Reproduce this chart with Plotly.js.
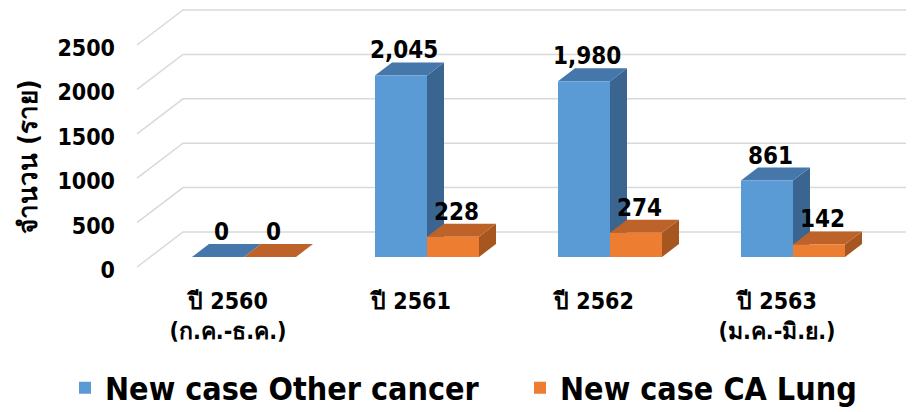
<!DOCTYPE html>
<html>
<head>
<meta charset="utf-8">
<script src="https://cdn.plot.ly/plotly-3.0.1.min.js"></script>
<style>html,body{margin:0;padding:0;background:#fff;}#chart{width:914px;height:412px;}</style>
</head>
<body>
<div id="chart"></div>
<script>
// ---- data ----
const categories = ['ปี 2560<br>(ก.ค.-ธ.ค.)', 'ปี 2561', 'ปี 2562', 'ปี 2563<br>(ม.ค.-มิ.ย.)'];
const seriesNames = ['New case Other cancer', 'New case CA Lung'];
const otherCancer = [0, 2045, 1980, 861];
const caLung = [0, 228, 274, 142];
const yTicks = [0, 500, 1000, 1500, 2000, 2500];

// ---- geometry / style ----
const W = 914, H = 412;
const M = {l: 130, r: 4, t: 4, b: 137, autoexpand: false};
const plotH = H - M.t - M.b;
const plotBottom = H - M.b;
const FLOOR = 257;          // pixel row of value 0 at bar front
const PYU = 0.0888;         // pixels per unit
const CAT0 = 244, PXC = 183; // pixel of first category, pixels per category
const BARPX = 52, DX = 17, DY = 13; // bar width & 3-D depth offset (px)
const FONT = "Tahoma, 'DejaVu Sans Condensed', 'DejaVu Sans', 'Noto Sans', sans-serif";
const COLORS = {
  front: ['#5B9BD5', '#ED7D31'],
  top:   ['#4677AA', '#BD6229'],
  side:  ['#3B6591', '#A7561F']
};

const yRange = [-(plotBottom - FLOOR) / PYU, (FLOOR - M.t) / PYU];
const xRange = [(M.l - CAT0) / PXC, (W - M.r - CAT0) / PXC];
const bw = BARPX / PXC;
const xs = categories.map((c, i) => i);
const series = [otherCancer, caLung];

const traces = series.map((vals, s) => ({
  type: 'bar',
  name: seriesNames[s],
  x: xs,
  y: vals,
  width: bw,
  offset: s === 0 ? -bw : 0,
  marker: {color: COLORS.front[s], line: {width: 0}},
  hoverinfo: 'skip'
}));

const shapes = [];
// back-wall gridlines with perspective lead-in
yTicks.forEach(v => {
  shapes.push({
    type: 'path', layer: 'below',
    xref: 'paper', xsizemode: 'pixel', xanchor: 0,
    yref: 'y', ysizemode: 'pixel', yanchor: v,
    path: `M7,-10L53,25L${W - M.r - M.l - 4},25`,
    line: {color: '#D9D9D9', width: 1.5}
  });
});
// 3-D top and side faces of each bar
series.forEach((vals, s) => {
  vals.forEach((v, i) => {
    const left = i + (s === 0 ? -bw : 0);
    const h = v * PYU;
    shapes.push({
      type: 'path', layer: 'below',
      xref: 'x', xsizemode: 'pixel', xanchor: left + bw,
      yref: 'y', ysizemode: 'pixel', yanchor: v,
      path: `M0,0L${DX},${DY}L${DX},${DY - h}L0,${-h}Z`,
      fillcolor: COLORS.side[s], line: {width: 0}
    });
    shapes.push({
      type: 'path', layer: 'below',
      xref: 'x', xsizemode: 'pixel', xanchor: left,
      yref: 'y', ysizemode: 'pixel', yanchor: v,
      path: `M0,0L${BARPX},0L${BARPX + DX},${DY}L${DX},${DY}Z`,
      fillcolor: COLORS.top[s], line: {width: 0}
    });
  });
});

const annotations = [];
series.forEach((vals, s) => {
  vals.forEach((v, i) => {
    annotations.push({
      xref: 'x', yref: 'y', x: i + (s === 0 ? -bw / 2 : bw / 2), y: v,
      yshift: 25, xshift: 3, yanchor: 'middle', showarrow: false,
      text: v.toLocaleString('en-US'),
      font: {family: FONT, size: 24, color: '#000', weight: 'bold'}
    });
  });
});
annotations.push({
  xref: 'paper', yref: 'paper',
  x: (28 - M.l) / (W - M.l - M.r), y: (plotBottom - 157) / plotH,
  xanchor: 'center', yanchor: 'middle', textangle: -90, showarrow: false,
  text: 'จำนวน (ราย)',
  font: {family: FONT, size: 26, color: '#000', weight: 'bold'}
});

const layout = {
  width: W, height: H,
  margin: M,
  paper_bgcolor: '#fff', plot_bgcolor: 'rgba(0,0,0,0)',
  barmode: 'overlay',
  showlegend: true,
  font: {family: FONT, color: '#000', weight: 'bold'},
  xaxis: {
    range: xRange, tickvals: xs, ticktext: categories, automargin: false,
    showgrid: false, zeroline: false, showline: false, ticks: '',
    ticklabelshift: -16, ticklabelstandoff: 10,
    tickfont: {family: FONT, size: 23, color: '#000', weight: 'bold'},
    fixedrange: true
  },
  yaxis: {
    range: yRange, tickvals: yTicks, ticktext: yTicks.map(String), automargin: false,
    showgrid: false, zeroline: false, showline: false, ticks: '',
    ticklabelshift: 13, ticklabelstandoff: 14,
    tickfont: {family: FONT, size: 23, color: '#000', weight: 'bold'},
    fixedrange: true
  },
  legend: {
    orientation: 'h',
    x: (65 - M.l) / (W - M.l - M.r), xanchor: 'left',
    y: (plotBottom - 388) / plotH, yanchor: 'middle',
    entrywidth: 410, entrywidthmode: 'pixels',
    font: {family: FONT, size: 32, color: '#000', weight: 'bold'},
    bgcolor: 'rgba(0,0,0,0)'
  },
  shapes: shapes,
  annotations: annotations
};

Plotly.newPlot('chart', traces, layout, {displayModeBar: false, staticPlot: true});
</script>
</body>
</html>
